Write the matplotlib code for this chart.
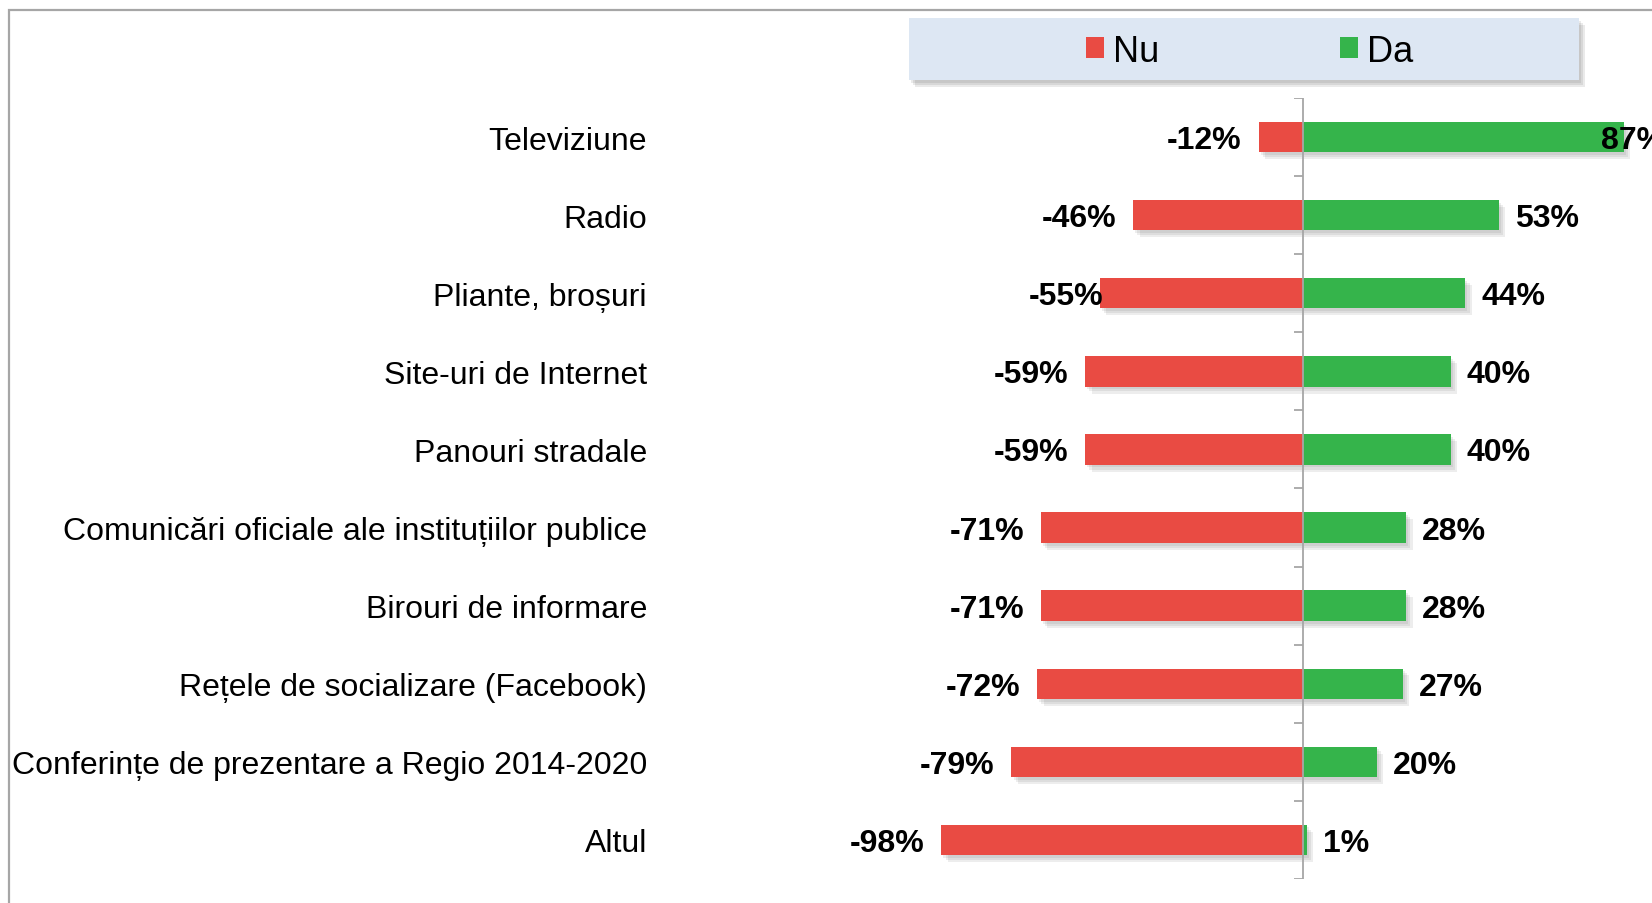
import matplotlib
matplotlib.use("Agg")
import matplotlib.pyplot as plt
from matplotlib.patches import Rectangle, Patch
import matplotlib.patheffects as pe
import numpy as np

categories = ["Televiziune", "Radio", "Pliante, broșuri", "Site-uri de Internet",
              "Panouri stradale", "Comunicări oficiale ale instituțiilor publice",
              "Birouri de informare", "Rețele de socializare (Facebook)",
              "Conferințe de prezentare a Regio 2014-2020", "Altul"]
nu_values = [-12, -46, -55, -59, -59, -71, -71, -72, -79, -98]
da_values = [87, 53, 44, 40, 40, 28, 28, 27, 20, 1]
series_names = ["Nu", "Da"]

RED = "#E94B43"
GREEN = "#35B44B"
GREY = "#A6A6A6"
FONT = ["Liberation Sans", "DejaVu Sans"]

W, H, DPI = 1652, 904, 100
fig = plt.figure(figsize=(W / DPI, H / DPI), dpi=DPI)

# outer frame (cropped on right and bottom)
fig.patches.append(Rectangle((8.5 / W, -0.1), 1.2, 1 - 10.5 / H + 0.1,
                             transform=fig.transFigure, fill=False,
                             edgecolor=GREY, linewidth=1.6))

ax_left, ax_right = 665, 1652
ax_top, ax_bot = 99, 880
ax = fig.add_axes([ax_left / W, 1 - ax_bot / H, (ax_right - ax_left) / W, (ax_bot - ax_top) / H])

zero_px = 1303
px_per_unit = 3.69
ax.set_xlim(-(zero_px - ax_left) / px_per_unit, (ax_right - zero_px) / px_per_unit)

n = len(categories)
y = np.arange(n)[::-1]
ax.set_ylim(-0.5, n - 0.5)


def soft_shadow(alpha_each, offsets):
    effects = [pe.SimplePatchShadow(offset=o, shadow_rgbFace="#555555", alpha=alpha_each) for o in offsets]
    return effects + [pe.Normal()]


bar_shadow = soft_shadow(0.10, [(1.5, -2), (3, -3.5), (4.5, -5)])
bh = 0.39
bars_nu = ax.barh(y, nu_values, height=bh, color=RED, label=series_names[0], zorder=3)
bars_da = ax.barh(y, da_values, height=bh, color=GREEN, label=series_names[1], zorder=3)
for b in list(bars_nu) + list(bars_da):
    b.set_path_effects(bar_shadow)

# axis line at zero with boundary ticks
ax.axvline(0, color=GREY, linewidth=1.3, zorder=4)
bounds = np.arange(n + 1) - 0.5
ax.hlines(bounds, -9 / px_per_unit, 0, color=GREY, linewidth=1.3, zorder=4)

for s in ax.spines.values():
    s.set_visible(False)
ax.set_xticks([])
ax.set_yticks(y)
ax.set_yticklabels(categories, fontsize=23, family=FONT)
ax.tick_params(axis="y", length=0, pad=13)

# value labels
nudge = {2: 20}
for i, (v, yy) in enumerate(zip(nu_values, y)):
    ax.annotate(f"{v}%", (v, yy), xytext=(-17 + nudge.get(i, 0), -3), textcoords="offset pixels",
                ha="right", va="center", fontsize=23, fontweight="bold", family=FONT, zorder=5)
xmax = ax.get_xlim()[1]
for v, yy in zip(da_values, y):
    off = -23 if v > xmax - 15 else 16
    ax.annotate(f"{v}%", (v, yy), xytext=(off, -3), textcoords="offset pixels",
                ha="left", va="center", fontsize=23, fontweight="bold", family=FONT, zorder=5)

# legend box
lx0, lx1, ly0, ly1 = 909, 1579, 19, 81
box = Rectangle((lx0 / W, 1 - ly1 / H), (lx1 - lx0) / W, (ly1 - ly0) / H,
                transform=fig.transFigure, facecolor="#DDE7F3", edgecolor="none",
                path_effects=soft_shadow(0.12, [(1.5, -2), (3, -3.5), (4.5, -5)]))
fig.patches.append(box)
handles = [Patch(facecolor=RED, edgecolor="none"), Patch(facecolor=GREEN, edgecolor="none")]
leg = fig.legend(handles, series_names, loc="center",
                 bbox_to_anchor=((lx0 + lx1) / 2 / W + 6 / W, 1 - ((ly0 + ly1) / 2 + 2) / H),
                 ncol=2, frameon=False, prop={"family": FONT, "size": 26},
                 handlelength=0.5, handleheight=0.5, handletextpad=0.25, columnspacing=5.0)

fig.savefig("out.png", dpi=DPI)
